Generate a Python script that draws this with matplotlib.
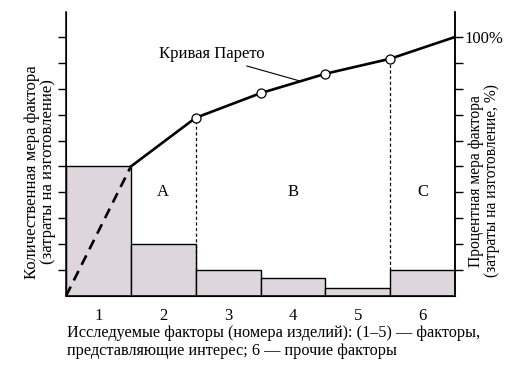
import numpy as np
import matplotlib
matplotlib.use('Agg')
import matplotlib.pyplot as plt

plt.rcParams['font.family'] = ['Liberation Serif', 'DejaVu Serif']
plt.rcParams['font.size'] = 12

factors = [1, 2, 3, 4, 5, 6]
values = [5.0, 2.0, 1.0, 0.7, 0.3, 1.0]
pareto_pct = [50, 68.8, 78.3, 85.8, 91.6, 100]
group_labels = ['A', 'B', 'C']
group_x = [2.0, 4.0, 6.0]
group_y = 4.0

fig = plt.figure(figsize=(5.25, 3.81), dpi=100)
ax = fig.add_axes([66/525, 1 - 296/381, (455-66)/525, (296-12)/381])
ax2 = ax.twinx()
ymax = 10.965

ax.bar(factors, values, width=1.0, color='#ddd6dd', edgecolor='black', linewidth=1.0, zorder=2)

edges = np.array(factors) + 0.5
# dashed start segment and pareto curve drawn on the percent axis
ax2.plot([0.5, edges[0]], [0, pareto_pct[0]], color='black', lw=1.9, ls=(0, (4, 2.6)), zorder=3)
ax2.plot(edges, pareto_pct, color='black', lw=1.9, zorder=3)
ax2.plot(edges[1:5], pareto_pct[1:5], ls='none', marker='o', ms=6.5, mfc='white', mec='black', mew=0.9, zorder=4)

# dotted dividers between groups
ax2.plot([edges[1], edges[1]], [values[2] * 10, pareto_pct[1]], color='black', lw=0.9, ls=(0, (2.5, 2)), zorder=1)
ax2.plot([edges[4], edges[4]], [values[5] * 10, pareto_pct[4]], color='black', lw=0.9, ls=(0, (2.5, 2)), zorder=1)

for g, gx in zip(group_labels, group_x):
    ax.text(gx, group_y, g, ha='center', va='center')

ax.text(2.75, 9.05, 'Кривая Парето', ha='center', va='bottom')
ax.plot([3.29, 4.11], [8.88, 8.30], color='black', lw=0.8)

ax.set_xlim(0.5, 6.5)
ax.set_ylim(0, ymax)
ax.set_xticks(factors)
ax.set_xticklabels([str(f) for f in factors])
ax.tick_params(axis='x', length=0, pad=9)
ax.set_yticks(np.arange(1, 11))
ax.set_yticklabels([])
ax.tick_params(axis='y', direction='out', length=6, width=1.0)
ax.spines['top'].set_visible(False)
for s in ['left', 'right', 'bottom']:
    ax.spines[s].set_linewidth(1.1)

ax2.set_ylim(0, ymax * 10)
ax2.set_yticks(np.arange(10, 101, 10))
ax2.set_yticklabels([''] * 9 + ['100%'])
ax2.tick_params(axis='y', direction='out', length=6, width=1.0, pad=1)
ax2.spines['top'].set_visible(False)
ax2.spines['right'].set_linewidth(1.1)

fig.text(40/525, 1 - 172/381, 'Количественная мера фактора\n(затраты на изготовление)',
         rotation=90, ha='center', va='center', linespacing=1.0)
fig.text(484/525, 1 - 181/381, 'Процентная мера фактора\n(затраты на изготовление, %)',
         rotation=90, ha='center', va='center', linespacing=1.0, fontsize=11.2)
fig.text(67/525, 1 - 342/381,
         'Исследуемые факторы (номера изделий): (1\u20135) \u2014 факторы,\nпредставляющие интерес; 6 \u2014 прочие факторы',
         ha='left', va='center', linespacing=1.1, fontsize=11.7)

fig.savefig('out.png', dpi=100)
